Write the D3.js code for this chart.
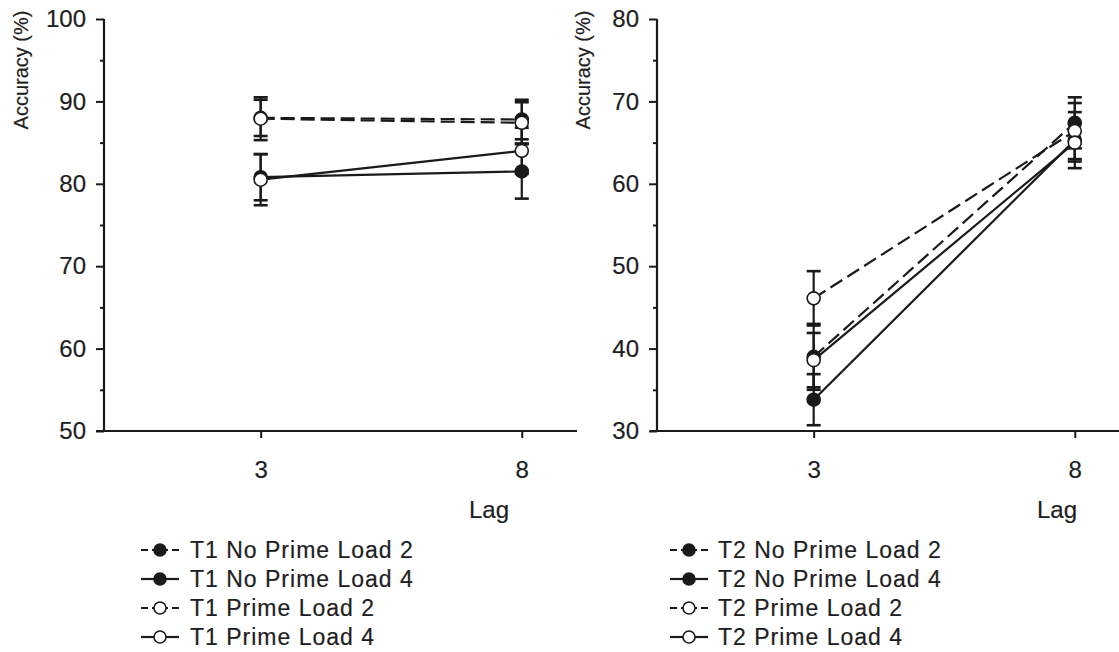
<!DOCTYPE html>
<html>
<head>
<meta charset="utf-8">
<script src="https://cdn.jsdelivr.net/npm/d3@7"></script>
<style>
  html, body { margin: 0; padding: 0; background: #fff; }
  svg { display: block; }
  text { font-family: "Liberation Sans", Arial, sans-serif; fill: #1e1e1e; stroke: #1e1e1e; stroke-width: 0.2px; }
</style>
</head>
<body>
<svg id="chart" width="1119" height="652"></svg>
<script>
// ---------- data ----------
const lags = [3, 8];
const conditions = ["No Prime Load 2", "No Prime Load 4", "Prime Load 2", "Prime Load 4"];
// T1 accuracy means per condition at lag 3 and lag 8
const t1Means  = [[88.0, 87.8], [80.8, 81.5], [87.9, 87.4], [80.5, 84.0]];
const t1Errors = [[2.2, 2.4], [2.8, 3.3], [2.6, 2.5], [3.1, 2.8]];
// T2 accuracy means
const t2Means  = [[39.0, 67.4], [33.8, 65.3], [46.1, 66.4], [38.6, 65.0]];
const t2Errors = [[4.0, 3.1], [3.1, 3.4], [3.3, 3.4], [3.3, 2.3]];
const t1YTicks = [50, 60, 70, 80, 90, 100];
const t2YTicks = [30, 40, 50, 60, 70, 80];
const xTickLabels = ["3", "8"];

// ---------- styles ----------
const condStyle = [
  { dashed: true,  filled: true  },
  { dashed: false, filled: true  },
  { dashed: true,  filled: false },
  { dashed: false, filled: false }
];
const ink = "#1a1a1a";
const FONT = "'Liberation Sans', Arial, sans-serif";
const svg = d3.select("#chart");

function panel(opts) {
  const { axisX, axisRight, xLeftExt, yTop, yBottom, yDomain, yTicks, means, errors, prefix, legendX, legendTextX, labelX, lagX } = opts;
  const g = svg.append("g");
  const x = d3.scaleLinear().domain([0, 9]).range([axisX, axisX + 470]);
  const y = d3.scaleLinear().domain(yDomain).range([yBottom, yTop]);

  // x axis line
  g.append("line").attr("x1", xLeftExt).attr("x2", axisRight)
    .attr("y1", yBottom).attr("y2", yBottom)
    .attr("stroke", ink).attr("stroke-width", 2.2);
  // y axis line
  g.append("line").attr("x1", axisX).attr("x2", axisX)
    .attr("y1", yTop).attr("y2", yBottom)
    .attr("stroke", ink).attr("stroke-width", 2.2);

  // y ticks (major)
  const yAxis = d3.axisLeft(y).tickValues(yTicks).tickSize(8).tickPadding(10).tickFormat(d3.format("d"));
  const ya = g.append("g").attr("transform", `translate(${axisX},0)`).call(yAxis);
  ya.attr("font-size", null).attr("font-family", null);
  ya.select(".domain").remove();
  ya.selectAll(".tick line").attr("stroke", ink).attr("stroke-width", 2);
  ya.selectAll(".tick text").style("font-size", "24px").attr("fill", "#1e1e1e")
    .style("font-family", FONT);
  // minor ticks
  const minor = d3.range(yDomain[0] + 5, yDomain[1], 10);
  const ym = g.append("g").attr("transform", `translate(${axisX},0)`)
    .call(d3.axisLeft(y).tickValues(minor).tickSize(4).tickFormat(""));
  ym.select(".domain").remove();
  ym.selectAll(".tick line").attr("stroke", ink).attr("stroke-width", 2);

  // x ticks
  const xAxis = d3.axisBottom(x).tickValues(lags).tickSize(7).tickPadding(23)
    .tickFormat((d, i) => xTickLabels[i]);
  const xa = g.append("g").attr("transform", `translate(0,${yBottom})`).call(xAxis);
  xa.attr("font-size", null).attr("font-family", null);
  xa.select(".domain").remove();
  xa.selectAll(".tick line").attr("stroke", ink).attr("stroke-width", 2);
  xa.selectAll(".tick text").style("font-size", "24px").attr("fill", "#1e1e1e")
    .style("font-family", FONT);

  // axis titles
  g.append("text").attr("transform", `translate(${labelX},${70}) rotate(-90)`)
    .attr("text-anchor", "middle").style("font-size", "20px").text("Accuracy (%)");
  g.append("text").attr("x", lagX).attr("y", 518)
    .attr("text-anchor", "middle").style("font-size", "24px").text("Lag");

  const line = d3.line().x((d, i) => x(lags[i])).y(d => y(d));

  // lines
  means.forEach((m, k) => {
    g.append("path").attr("d", line(m)).attr("fill", "none")
      .attr("stroke", ink).attr("stroke-width", 2.2)
      .attr("stroke-dasharray", condStyle[k].dashed ? "14,6" : null);
  });
  // error bars
  means.forEach((m, k) => {
    m.forEach((v, i) => {
      const e = errors[k][i];
      const cx = x(lags[i]);
      g.append("line").attr("x1", cx).attr("x2", cx)
        .attr("y1", y(v - e)).attr("y2", y(v + e))
        .attr("stroke", ink).attr("stroke-width", 2.2);
      [v - e, v + e].forEach(t => {
        g.append("line").attr("x1", cx - 7).attr("x2", cx + 7)
          .attr("y1", y(t)).attr("y2", y(t))
          .attr("stroke", ink).attr("stroke-width", 2.6);
      });
    });
  });
  // markers
  means.forEach((m, k) => {
    m.forEach((v, i) => {
      g.append("circle").attr("cx", x(lags[i])).attr("cy", y(v)).attr("r", 6.5)
        .attr("fill", condStyle[k].filled ? ink : "#fff")
        .attr("stroke", ink).attr("stroke-width", 1.6);
    });
  });

  // legend
  const ly0 = 550, lstep = 29;
  conditions.forEach((c, k) => {
    const ly = ly0 + k * lstep;
    const lg = svg.append("g");
    const lx1 = legendX, lx2 = legendX + 38, lmid = legendX + 19;
    const dash = condStyle[k].dashed ? "7,4" : null;
    lg.append("line").attr("x1", lx1).attr("x2", lmid).attr("y1", ly).attr("y2", ly)
      .attr("stroke", ink).attr("stroke-width", 2.2).attr("stroke-dasharray", dash);
    lg.append("line").attr("x1", lx2).attr("x2", lmid).attr("y1", ly).attr("y2", ly)
      .attr("stroke", ink).attr("stroke-width", 2.2).attr("stroke-dasharray", dash);
    lg.append("circle").attr("cx", lmid).attr("cy", ly).attr("r", 6)
      .attr("fill", condStyle[k].filled ? ink : "#fff")
      .attr("stroke", ink).attr("stroke-width", 1.6);
    lg.append("text").attr("x", legendTextX).attr("y", ly + 8)
      .style("font-size", "23px").attr("letter-spacing", 1)
      .text(prefix + " " + c);
  });
}

panel({ axisX: 104, axisRight: 577, xLeftExt: 96, yTop: 19, yBottom: 431,
  yDomain: [50, 100], yTicks: t1YTicks, means: t1Means, errors: t1Errors, prefix: "T1",
  legendX: 141, legendTextX: 190, labelX: 28, lagX: 489 });
panel({ axisX: 657, axisRight: 1119, xLeftExt: 650, yTop: 19, yBottom: 431,
  yDomain: [30, 80], yTicks: t2YTicks, means: t2Means, errors: t2Errors, prefix: "T2",
  legendX: 670, legendTextX: 718, labelX: 590, lagX: 1057 });
</script>
</body>
</html>
